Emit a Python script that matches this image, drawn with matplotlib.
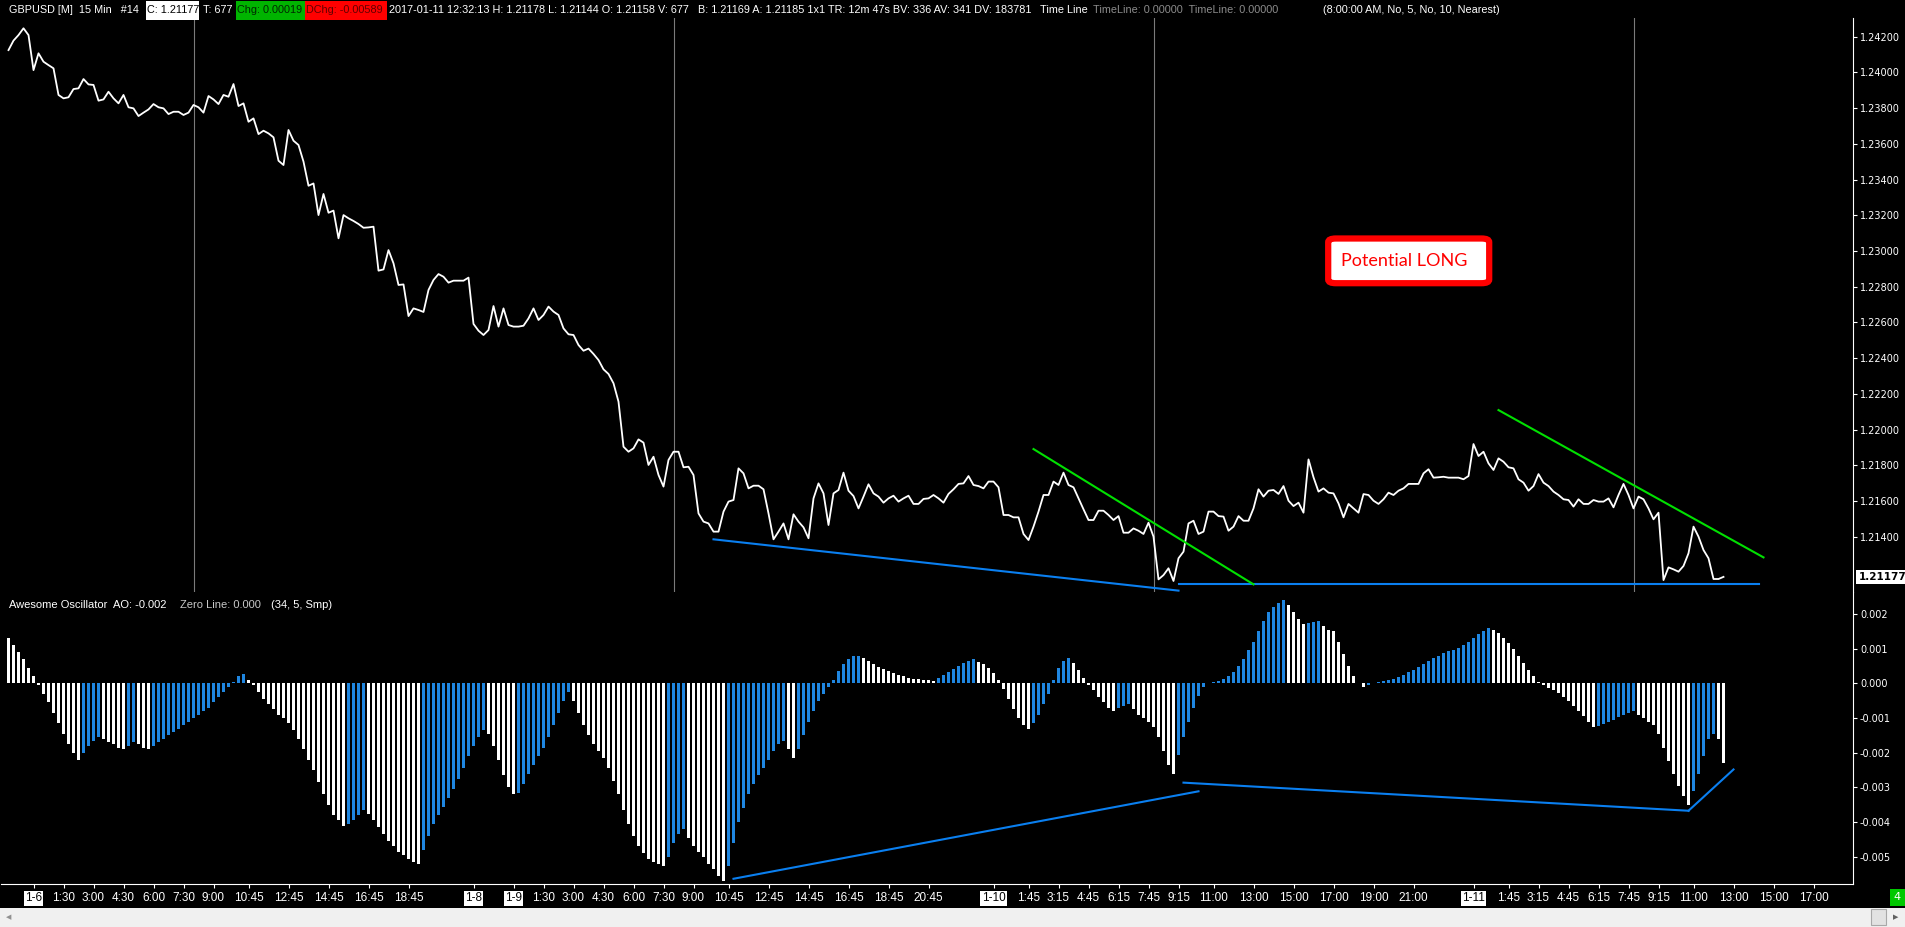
import numpy as np
import matplotlib.pyplot as plt
from matplotlib.patches import Rectangle, FancyBboxPatch

plt.rcParams['axes.unicode_minus'] = False
UIFONT = ['Liberation Sans', 'DejaVu Sans']

W, H = 1906, 927

# ---- data (15 min bars, bar 0 = 1-6 00:00) ----
first_bar = -5
close = [
    1.24124, 1.24177, 1.24208, 1.24246, 1.24208, 1.24012, 1.24106, 1.24059, 1.24040, 1.24022,
    1.23873, 1.23854, 1.23860, 1.23906, 1.23910, 1.23962, 1.23932, 1.23929, 1.23841, 1.23848,
    1.23891, 1.23854, 1.23826, 1.23873, 1.23804, 1.23798, 1.23755, 1.23774, 1.23792, 1.23822,
    1.23804, 1.23798, 1.23766, 1.23779, 1.23779, 1.23761, 1.23774, 1.23817, 1.23804, 1.23774,
    1.23867, 1.23848, 1.23822, 1.23873, 1.23863, 1.23934, 1.23811, 1.23826, 1.23723, 1.23742,
    1.23654, 1.23673, 1.23658, 1.23636, 1.23505, 1.23481, 1.23677, 1.23617, 1.23593, 1.23500,
    1.23365, 1.23378, 1.23201, 1.23319, 1.23214, 1.23226, 1.23071, 1.23201, 1.23183, 1.23168,
    1.23151, 1.23130, 1.23132, 1.23136, 1.22890, 1.22897, 1.23005, 1.22931, 1.22810, 1.22813,
    1.22636, 1.22679, 1.22670, 1.22659, 1.22782, 1.22838, 1.22871, 1.22856, 1.22823, 1.22834,
    1.22834, 1.22834, 1.22851, 1.22592, 1.22554, 1.22530, 1.22558, 1.22692, 1.22577, 1.22679,
    1.22586, 1.22577, 1.22577, 1.22582, 1.22623, 1.22679, 1.22614, 1.22642, 1.22689, 1.22661,
    1.22642, 1.22567, 1.22534, 1.22530, 1.22474, 1.22442, 1.22454, 1.22424, 1.22390, 1.22338,
    1.22312, 1.22260, 1.22157, 1.21905, 1.21877, 1.21896, 1.21946, 1.21928, 1.21803, 1.21849,
    1.21747, 1.21682, 1.21831, 1.21877, 1.21877, 1.21790, 1.21793, 1.21747, 1.21532, 1.21486,
    1.21476, 1.21430, 1.21430, 1.21542, 1.21598, 1.21607, 1.21784, 1.21756, 1.21672, 1.21687,
    1.21687, 1.21667, 1.21532, 1.21387, 1.21430, 1.21476, 1.21387, 1.21527, 1.21486, 1.21454,
    1.21393, 1.21616, 1.21700, 1.21644, 1.21467, 1.21644, 1.21663, 1.21760, 1.21659, 1.21629,
    1.21560, 1.21626, 1.21695, 1.21644, 1.21626, 1.21592, 1.21616, 1.21631, 1.21598, 1.21616,
    1.21631, 1.21585, 1.21585, 1.21613, 1.21616, 1.21635, 1.21616, 1.21592, 1.21641, 1.21667,
    1.21697, 1.21700, 1.21741, 1.21691, 1.21685, 1.21672, 1.21710, 1.21710, 1.21678, 1.21523,
    1.21523, 1.21510, 1.21510, 1.21417, 1.21383, 1.21458, 1.21542, 1.21635, 1.21635, 1.21710,
    1.21691, 1.21760, 1.21691, 1.21678, 1.21616, 1.21555, 1.21495, 1.21495, 1.21547, 1.21547,
    1.21523, 1.21495, 1.21517, 1.21424, 1.21424, 1.21448, 1.21435, 1.21417, 1.21480, 1.21402,
    1.21163, 1.21187, 1.21225, 1.21154, 1.21281, 1.21318, 1.21476, 1.21491, 1.21417, 1.21430,
    1.21542, 1.21542, 1.21517, 1.21514, 1.21435, 1.21458, 1.21517, 1.21491, 1.21491, 1.21560,
    1.21667, 1.21626, 1.21659, 1.21663, 1.21641, 1.21685, 1.21603, 1.21573, 1.21592, 1.21536,
    1.21834, 1.21734, 1.21654, 1.21672, 1.21648, 1.21644, 1.21588, 1.21510, 1.21585, 1.21560,
    1.21536, 1.21640, 1.21635, 1.21603, 1.21585, 1.21611, 1.21648, 1.21635, 1.21659, 1.21672,
    1.21697, 1.21697, 1.21697, 1.21756, 1.21779, 1.21732, 1.21734, 1.21737, 1.21732, 1.21732,
    1.21732, 1.21723, 1.21741, 1.21920, 1.21853, 1.21877, 1.21812, 1.21775, 1.21840, 1.21821,
    1.21790, 1.21784, 1.21723, 1.21704, 1.21659, 1.21685, 1.21752, 1.21704, 1.21685, 1.21654,
    1.21635, 1.21611, 1.21607, 1.21570, 1.21611, 1.21585, 1.21585, 1.21607, 1.21598, 1.21598,
    1.21616, 1.21566, 1.21635, 1.21697, 1.21635, 1.21560, 1.21626, 1.21611, 1.21560, 1.21499,
    1.21536, 1.21159, 1.21230, 1.21219, 1.21206, 1.21238, 1.21309, 1.21458, 1.21402, 1.21327,
    1.21281, 1.21165, 1.21165, 1.21177,
]
bars = np.arange(first_bar, first_bar + len(close))

# Awesome Oscillator per bar, in units of 0.001
ao_milli = [
    1.3, 1.1, 0.9, 0.7, 0.45, 0.2,
    -0.05, -0.3, -0.55, -0.85, -1.15, -1.45, -1.75, -2.0, -2.2,
    -2.0, -1.8, -1.65, -1.55,
    -1.6, -1.7, -1.75, -1.85, -1.9,
    -1.8, -1.7, -1.75, -1.85, -1.9,
    -1.8, -1.7, -1.6, -1.5, -1.4, -1.3, -1.2, -1.1, -1.0, -0.9, -0.8, -0.7, -0.55, -0.4, -0.25,
    -0.1, 0.05, 0.2, 0.28,
    0.1, -0.05, -0.25, -0.45, -0.6, -0.75, -0.9, -1.0, -1.15, -1.35, -1.6, -1.9, -2.2, -2.5,
    -2.85, -3.2, -3.5, -3.8, -3.95, -4.1,
    -4.05, -3.95, -3.8, -3.65,
    -3.75, -3.95, -4.15, -4.35, -4.55, -4.7, -4.85, -4.95, -5.05, -5.15, -5.2,
    -4.8, -4.4, -4.05, -3.8, -3.55, -3.3, -3.05, -2.75, -2.45, -2.1, -1.8, -1.55, -1.35,
    -1.45, -1.8, -2.2, -2.65, -3.0, -3.2,
    -3.15, -2.9, -2.6, -2.35, -2.1, -1.85, -1.55, -1.2, -0.85, -0.5, -0.25,
    -0.5, -0.85, -1.2, -1.5, -1.75, -1.95, -2.15, -2.45, -2.8, -3.2, -3.65, -4.05, -4.4, -4.7,
    -4.9, -5.05, -5.15, -5.2, -5.25,
    -5.0, -4.6, -4.35, -4.2,
    -4.45, -4.7, -4.85, -5.0, -5.2, -5.35, -5.55, -5.7,
    -5.25, -4.6, -4.0, -3.6, -3.2, -2.9, -2.65, -2.45, -2.2, -1.95, -1.75, -1.65,
    -1.9, -2.15,
    -1.9, -1.5, -1.1, -0.8, -0.5, -0.3, -0.1, 0.1, 0.35, 0.55, 0.7, 0.78, 0.8,
    0.72, 0.65, 0.55, 0.48, 0.42, 0.36, 0.3, 0.25, 0.2, 0.16, 0.13, 0.12, 0.11, 0.1, 0.08,
    0.15, 0.25, 0.33, 0.42, 0.5, 0.58, 0.65, 0.7,
    0.62, 0.55, 0.45, 0.3, 0.1, -0.15, -0.45, -0.75, -1.0, -1.2, -1.3,
    -1.15, -0.9, -0.6, -0.3, 0.1, 0.45, 0.65, 0.72,
    0.6, 0.4, 0.15, -0.05, -0.2, -0.4, -0.55, -0.7, -0.8,
    -0.72, -0.65, -0.6,
    -0.75, -0.9, -1.0, -1.1, -1.25, -1.55, -1.95, -2.35, -2.6,
    -2.05, -1.55, -1.1, -0.7, -0.35, -0.1, 0.02, 0.05, 0.08, 0.12, 0.2, 0.32, 0.5, 0.7, 0.95,
    1.2, 1.5, 1.8, 2.05, 2.2, 2.32, 2.4,
    2.25, 2.05, 1.85, 1.7,
    1.75, 1.78, 1.8,
    1.65, 1.55, 1.5, 1.2, 0.85, 0.5, 0.2, 0.0, -0.1,
    -0.05, 0.0, 0.03, 0.06, 0.1, 0.14, 0.18, 0.24, 0.32, 0.4, 0.48, 0.56, 0.64, 0.72, 0.8,
    0.88, 0.92, 0.96, 1.02, 1.1, 1.2, 1.3, 1.42, 1.52, 1.6,
    1.55, 1.45, 1.3, 1.15, 1.0, 0.8, 0.6, 0.4, 0.2, 0.05, -0.05, -0.12, -0.2, -0.28, -0.38,
    -0.5, -0.65, -0.8, -0.95, -1.1, -1.25,
    -1.22, -1.18, -1.12, -1.05, -0.98, -0.9, -0.85, -0.8,
    -0.9, -1.0, -1.1, -1.2, -1.45, -1.85, -2.25, -2.6, -2.95, -3.25, -3.5,
    -3.1, -2.6, -2.1, -1.6, -1.45,
    -1.6, -2.3,
]
ao = np.array(ao_milli) * 0.001

session_bars = [32, 128, 224, 320]
tick_bars = [0, 6, 12, 18, 24, 30, 36, 43, 51, 59, 67, 75, 88,
             96, 102, 108, 114, 120, 126, 132, 139, 147, 155, 163, 171, 179,
             192, 199, 205, 211, 217, 223, 229, 236, 244, 252, 260, 268, 276,
             288, 295, 301, 307, 313, 319, 325, 332, 340, 348, 356]
tick_labels = ['1-6', '1:30', '3:00', '4:30', '6:00', '7:30', '9:00', '10:45', '12:45', '14:45', '16:45', '18:45', '1-8',
               '1-9', '1:30', '3:00', '4:30', '6:00', '7:30', '9:00', '10:45', '12:45', '14:45', '16:45', '18:45', '20:45',
               '1-10', '1:45', '3:15', '4:45', '6:15', '7:45', '9:15', '11:00', '13:00', '15:00', '17:00', '19:00', '21:00',
               '1-11', '1:45', '3:15', '4:45', '6:15', '7:45', '9:15', '11:00', '13:00', '15:00', '17:00']
price_ticks = [1.214, 1.216, 1.218, 1.220, 1.222, 1.224, 1.226, 1.228, 1.230,
               1.232, 1.234, 1.236, 1.238, 1.240, 1.242]
ao_ticks = [0.002, 0.001, 0.0, -0.001, -0.002, -0.003, -0.004, -0.005]

# drawn trend lines: bar0, value0, bar1, value1, colour
price_lines = [(136, 1.21387, 229, 1.21100, '#0a7ff0'),
               (229, 1.21137, 345, 1.21137, '#0a7ff0'),
               (200, 1.21892, 244, 1.21135, '#00e000'),
               (293, 1.22110, 346, 1.21286, '#00e000')]
ao_lines = [(140, -0.00563, 233, -0.00311),
            (230, -0.00286, 331, -0.00367),
            (331, -0.00367, 340, -0.00248)]


def fx(x):
    return x / W


def fy(y):
    return 1 - y / H


fig = plt.figure(figsize=(W / 100, H / 100), dpi=100, facecolor='black')
ax_p = fig.add_axes([fx(1), fy(592), (1853 - 1) / W, (592 - 18) / H], facecolor='black')
ax_o = fig.add_axes([fx(1), fy(884), (1853 - 1) / W, (884 - 592) / H], facecolor='black')

for ax in (ax_p, ax_o):
    ax.set_xlim(-6.5, 363.9)
    for s in ax.spines.values():
        s.set_visible(False)
    ax.spines['right'].set_visible(True)
    ax.spines['right'].set_color('white')
    ax.yaxis.tick_right()
    ax.tick_params(axis='y', colors='white', direction='out', length=3, width=0.8,
                   labelsize=7, pad=2)

# price panel
ax_p.set_ylim(1.210923, 1.243035)
ax_p.set_yticks(price_ticks)
ax_p.set_yticklabels([f'{v:.5f}' for v in price_ticks])
ax_p.set_xticks([])
for b in session_bars:
    ax_p.axvline(b, color='#7a7a7a', lw=0.8)
ax_p.plot(bars, close, color='white', lw=1.3)
for b0, v0, b1, v1, c in price_lines:
    ax_p.plot([b0, b1], [v0, v1], color=c, lw=1.5)
ax_p.text(1.003, close[-1], f'{close[-1]:.5f}', transform=ax_p.get_yaxis_transform(),
          color='black', fontsize=7.5, fontweight='bold', va='center', ha='left',
          bbox=dict(boxstyle='square,pad=0.2', fc='white', ec='none'))

# oscillator panel
ax_o.set_ylim(-0.005781, 0.002634)
ax_o.set_yticks(ao_ticks)
ax_o.set_yticklabels([f'{v:.3f}' for v in ao_ticks])
ax_o.spines['bottom'].set_visible(True)
ax_o.spines['bottom'].set_color('white')
colors = ['white'] + ['#1f86e0' if ao[i] > ao[i - 1] else 'white' for i in range(1, len(ao))]
ax_o.bar(bars, ao, width=0.62, color=colors, linewidth=0)
for b0, v0, b1, v1 in ao_lines:
    ax_o.plot([b0, b1], [v0, v1], color='#0a7ff0', lw=1.5)
ax_o.set_xticks(tick_bars)
ax_o.set_xticklabels(tick_labels)
ax_o.tick_params(axis='x', colors='white', direction='out', length=3, width=0.8, pad=3)
for t in ax_o.get_xticklabels():
    t.set_fontfamily(UIFONT)
    t.set_fontsize(8.5)
    if '-' in t.get_text():
        t.set_color('black')
        t.set_bbox(dict(boxstyle='square,pad=0.12', fc='white', ec='none'))

# header bar
hy = fy(10)
fig.patches.append(Rectangle((fx(146), fy(20)), (199.5 - 146) / W, 19 / H, transform=fig.transFigure,
                             fc='white', ec='none'))
fig.patches.append(Rectangle((fx(235.7), fy(20)), (304.5 - 235.7) / W, 19 / H, transform=fig.transFigure,
                             fc='#00b400', ec='none'))
fig.patches.append(Rectangle((fx(305), fy(20)), (386.6 - 305) / W, 19 / H, transform=fig.transFigure,
                             fc='#ff0000', ec='none'))
header = [(9, 'GBPUSD [M]  15 Min   #14', 'white'),
          (147, 'C: 1.21177', 'black'),
          (203, 'T: 677', 'white'),
          (237, 'Chg: 0.00019', '#002800'),
          (306, 'DChg: -0.00589', '#600000'),
          (389, '2017-01-11 12:32:13 H: 1.21178 L: 1.21144 O: 1.21158 V: 677', 'white'),
          (698, 'B: 1.21169 A: 1.21185 1x1 TR: 12m 47s BV: 336 AV: 341 DV: 183781', 'white'),
          (1040, 'Time Line', 'white'),
          (1093, 'TimeLine: 0.00000  TimeLine: 0.00000', '#8c8c8c'),
          (1323, '(8:00:00 AM, No, 5, No, 10, Nearest)', 'white')]
for x, s, c in header:
    fig.text(fx(x), hy, s, color=c, fontsize=7.8, family=UIFONT, va='center', ha='left')

# oscillator caption
oy = fy(605)
fig.text(fx(9), oy, 'Awesome Oscillator  AO: -0.002', color='white', fontsize=8, family=UIFONT, va='center')
fig.text(fx(180), oy, 'Zero Line: 0.000', color='#c8c8c8', fontsize=8, family=UIFONT, va='center')
fig.text(fx(271), oy, '(34, 5, Smp)', color='white', fontsize=8, family=UIFONT, va='center')

# annotation box
fig.patches.append(FancyBboxPatch((fx(1328.2), fy(283.2)), (1489.2 - 1328.2) / W, (283.2 - 238.5) / H,
                                  boxstyle='round,pad=0,rounding_size=0.004', transform=fig.transFigure,
                                  fc='white', ec='#ff0000', lw=4.5))
fig.text(fx(1404.4), fy(261.5), 'Potential LONG', color='#ff0000', fontsize=13, family='Lato',
         ha='center', va='center')

# bottom strip: scrollbar and counter
fig.patches.append(Rectangle((0, 0), 1, (927 - 908) / H, transform=fig.transFigure, fc='#f0f0f0', ec='none'))
fig.patches.append(Rectangle((fx(1871), fy(925)), 15 / W, 16 / H, transform=fig.transFigure,
                             fc='#e2e2e2', ec='#a8a8a8', lw=0.8))
fig.text(fx(6), fy(917), '◀', color='#909090', fontsize=5, va='center')
fig.text(fx(1893), fy(917), '▶', color='#606060', fontsize=5, va='center')
fig.patches.append(Rectangle((fx(1890), fy(906)), 15 / W, 17 / H, transform=fig.transFigure,
                             fc='#00c800', ec='none'))
fig.text(fx(1897.5), fy(897.5), '4', color='white', fontsize=8, ha='center', va='center')

fig.savefig('out.png', dpi=100, facecolor='black')
